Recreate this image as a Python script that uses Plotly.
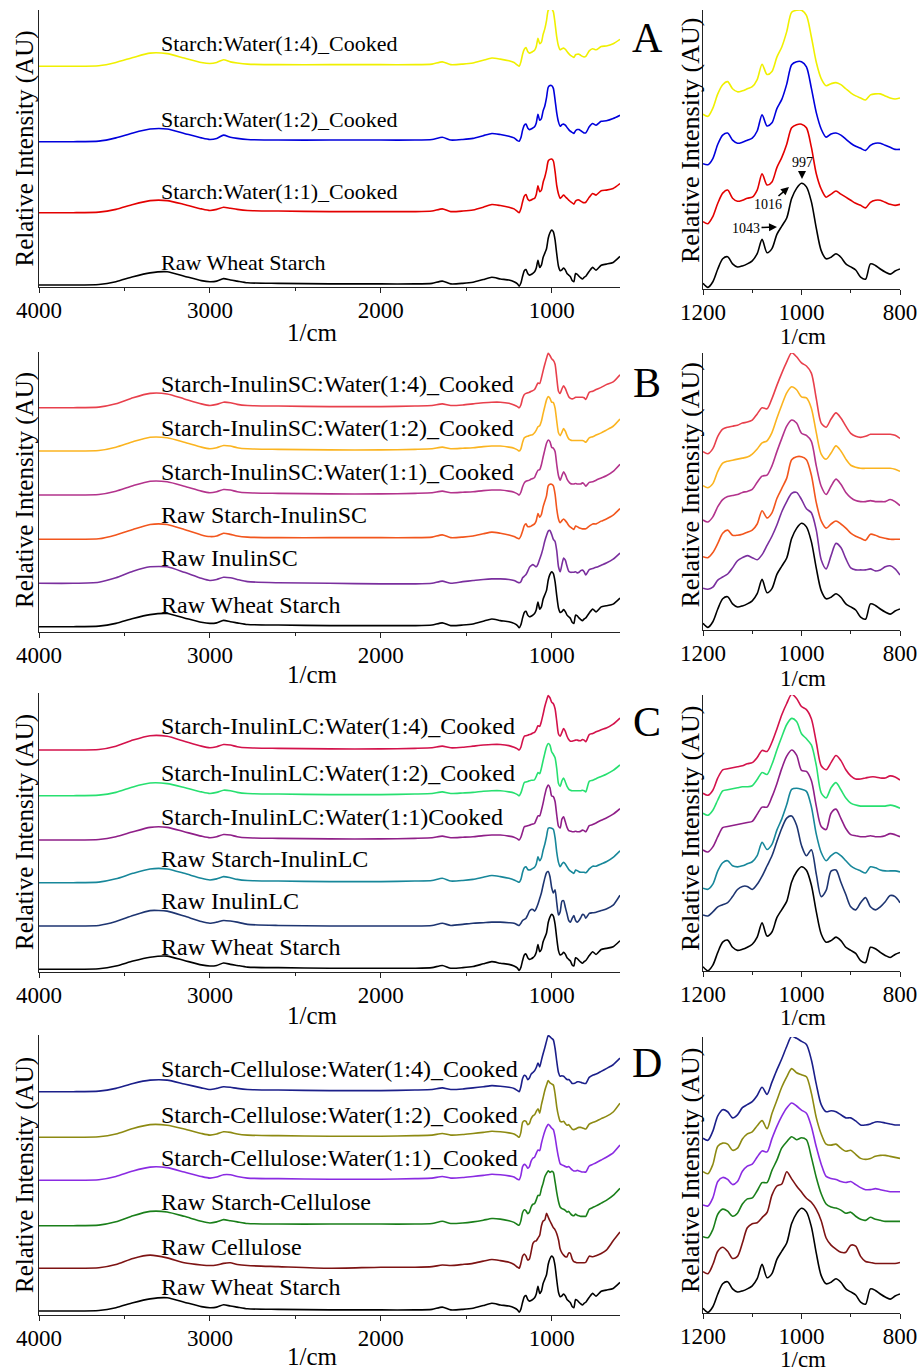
import plotly.graph_objects as go

W, H = 920, 1372
SERIF = "Liberation Serif"

# ---------------- wavenumber grid (1/cm) ----------------
WN_HI = [4000, 3800, 3650, 3550, 3450, 3350, 3250, 3150, 3050, 3000, 2960, 2920, 2880, 2840, 2780,
         2600, 2300, 2000, 1800, 1700, 1640, 1590, 1520, 1460, 1400, 1350, 1300, 1250, 1220]
WN_FP = [1200, 1190, 1180, 1170, 1160, 1150, 1140, 1130, 1120, 1110, 1100, 1090, 1080, 1070, 1060,
         1050, 1040, 1030, 1020, 1010, 1000, 990, 980, 970, 960, 950, 940, 930, 920, 910, 900,
         890, 880, 870, 860, 850, 840, 830, 820, 810, 800]
WN_LO = [780, 760, 740, 710, 680, 640, 600]
WAVENUMBER = WN_HI + WN_FP + WN_LO

# ---------------- spectra (relative intensity, main band = 1) ----------------
raw_wheat_starch = [
    0.00, 0.00, 0.01, 0.06, 0.15, 0.22, 0.24, 0.16, 0.08, 0.06, 0.07, 0.115, 0.09, 0.07, 0.04, 0.03, 0.02, 0.02, 0.02, 0.03, 0.07, 0.02, 0.03, 0.05, 0.10, 0.14, 0.11, 0.09, 0.06,
    0.02, -0.02, 0.035, 0.16, 0.26, 0.28, 0.21, 0.18, 0.19, 0.21, 0.24, 0.31, 0.45, 0.32, 0.36, 0.50, 0.58, 0.66, 0.85, 0.95, 1.00, 0.965, 0.82, 0.56, 0.34, 0.26, 0.275, 0.31, 0.275, 0.21, 0.18, 0.15, 0.08, 0.06, 0.21, 0.195, 0.16, 0.13, 0.11, 0.14, 0.16,
    0.25, 0.32, 0.27, 0.36, 0.38, 0.41, 0.52]

starch_water_1_1 = [
    0.00, 0.00, 0.01, 0.06, 0.15, 0.22, 0.22, 0.15, 0.07, 0.04, 0.06, 0.10, 0.08, 0.06, 0.04, 0.03, 0.02, 0.02, 0.02, 0.03, 0.07, 0.02, 0.03, 0.05, 0.10, 0.15, 0.13, 0.10, 0.07,
    0.02, 0.00, 0.07, 0.20, 0.30, 0.33, 0.25, 0.22, 0.23, 0.25, 0.26, 0.33, 0.49, 0.38, 0.41, 0.55, 0.65, 0.78, 0.94, 0.97, 0.975, 0.94, 0.75, 0.49, 0.34, 0.26, 0.29, 0.32, 0.29, 0.26, 0.23, 0.20, 0.18, 0.155, 0.21, 0.23, 0.23, 0.21, 0.19, 0.18, 0.19,
    0.28, 0.35, 0.32, 0.40, 0.41, 0.44, 0.53]

starch_water_1_2 = [
    0.00, 0.00, 0.01, 0.07, 0.16, 0.23, 0.23, 0.15, 0.07, 0.04, 0.06, 0.12, 0.08, 0.06, 0.04, 0.03, 0.03, 0.03, 0.03, 0.04, 0.08, 0.03, 0.04, 0.06, 0.11, 0.15, 0.13, 0.10, 0.07,
    0.02, 0.01, 0.07, 0.21, 0.30, 0.32, 0.25, 0.22, 0.23, 0.25, 0.27, 0.34, 0.50, 0.39, 0.42, 0.56, 0.65, 0.80, 0.99, 1.02, 1.02, 0.97, 0.76, 0.52, 0.36, 0.28, 0.31, 0.32, 0.30, 0.26, 0.22, 0.19, 0.17, 0.15, 0.20, 0.22, 0.22, 0.20, 0.18, 0.16, 0.16,
    0.27, 0.33, 0.30, 0.37, 0.38, 0.42, 0.48]

starch_water_1_4 = [
    0.00, 0.00, 0.01, 0.07, 0.16, 0.24, 0.23, 0.15, 0.07, 0.05, 0.07, 0.12, 0.08, 0.06, 0.04, 0.03, 0.03, 0.03, 0.03, 0.04, 0.08, 0.03, 0.04, 0.06, 0.11, 0.15, 0.13, 0.10, 0.07,
    0.02, 0.00, 0.08, 0.22, 0.31, 0.34, 0.27, 0.24, 0.25, 0.27, 0.29, 0.36, 0.51, 0.41, 0.44, 0.58, 0.68, 0.83, 1.02, 1.04, 1.04, 0.99, 0.78, 0.53, 0.37, 0.30, 0.32, 0.33, 0.31, 0.27, 0.23, 0.20, 0.18, 0.16, 0.21, 0.22, 0.22, 0.20, 0.18, 0.17, 0.18,
    0.28, 0.32, 0.30, 0.36, 0.37, 0.41, 0.49]

raw_inulin_sc = [
    0.00, 0.00, 0.02, 0.10, 0.22, 0.30, 0.30, 0.20, 0.09, 0.05, 0.07, 0.11, 0.10, 0.07, 0.03, 0.01, 0.00, -0.01, -0.01, 0.00, 0.04, 0.00, 0.03, 0.05, 0.07, 0.08, 0.08, 0.07, 0.05,
    0.02, 0.01, 0.03, 0.10, 0.13, 0.16, 0.22, 0.29, 0.32, 0.34, 0.32, 0.30, 0.35, 0.44, 0.53, 0.64, 0.77, 0.87, 0.95, 0.96, 0.89, 0.80, 0.76, 0.59, 0.30, 0.21, 0.34, 0.46, 0.42, 0.31, 0.22, 0.20, 0.20, 0.20, 0.21, 0.19, 0.20, 0.23, 0.24, 0.21, 0.15,
    0.25, 0.27, 0.29, 0.33, 0.37, 0.44, 0.55]

raw_starch_inulin_sc = [
    0.00, 0.00, 0.01, 0.08, 0.18, 0.27, 0.27, 0.18, 0.08, 0.05, 0.06, 0.11, 0.09, 0.06, 0.04, 0.03, 0.03, 0.03, 0.03, 0.04, 0.08, 0.03, 0.04, 0.06, 0.10, 0.13, 0.11, 0.08, 0.05,
    0.02, 0.01, 0.06, 0.15, 0.25, 0.28, 0.23, 0.23, 0.24, 0.26, 0.28, 0.34, 0.47, 0.40, 0.45, 0.59, 0.69, 0.79, 0.97, 1.00, 1.00, 0.97, 0.82, 0.55, 0.37, 0.30, 0.34, 0.37, 0.34, 0.30, 0.25, 0.22, 0.20, 0.18, 0.24, 0.23, 0.21, 0.20, 0.19, 0.19, 0.19,
    0.24, 0.28, 0.28, 0.33, 0.37, 0.44, 0.56]

starch_inulin_sc_1_1 = [
    0.00, 0.00, 0.01, 0.07, 0.17, 0.25, 0.24, 0.16, 0.07, 0.04, 0.06, 0.10, 0.09, 0.06, 0.04, 0.03, 0.02, 0.02, 0.03, 0.04, 0.07, 0.04, 0.05, 0.06, 0.08, 0.09, 0.09, 0.07, 0.05,
    0.02, 0.00, 0.05, 0.15, 0.22, 0.25, 0.26, 0.27, 0.29, 0.30, 0.32, 0.39, 0.45, 0.46, 0.55, 0.69, 0.82, 0.94, 1.00, 0.97, 0.87, 0.85, 0.79, 0.55, 0.35, 0.27, 0.35, 0.42, 0.37, 0.29, 0.24, 0.21, 0.20, 0.20, 0.21, 0.20, 0.20, 0.20, 0.22, 0.20, 0.16,
    0.23, 0.24, 0.27, 0.31, 0.35, 0.43, 0.56]

starch_inulin_sc_1_2 = [
    0.00, 0.00, 0.01, 0.07, 0.17, 0.25, 0.24, 0.16, 0.07, 0.04, 0.06, 0.10, 0.09, 0.06, 0.04, 0.03, 0.02, 0.02, 0.03, 0.04, 0.07, 0.04, 0.05, 0.06, 0.08, 0.09, 0.09, 0.07, 0.05,
    0.02, 0.00, 0.04, 0.16, 0.24, 0.26, 0.27, 0.28, 0.29, 0.30, 0.33, 0.38, 0.44, 0.46, 0.54, 0.68, 0.81, 0.93, 0.99, 0.96, 0.89, 0.88, 0.78, 0.54, 0.33, 0.28, 0.34, 0.41, 0.36, 0.28, 0.22, 0.20, 0.19, 0.19, 0.19, 0.19, 0.19, 0.19, 0.19, 0.18, 0.16,
    0.24, 0.26, 0.29, 0.33, 0.38, 0.45, 0.58]

starch_inulin_sc_1_4 = [
    0.00, 0.00, 0.01, 0.07, 0.18, 0.26, 0.25, 0.16, 0.07, 0.04, 0.06, 0.10, 0.09, 0.06, 0.04, 0.03, 0.02, 0.02, 0.03, 0.04, 0.07, 0.04, 0.05, 0.07, 0.09, 0.10, 0.10, 0.08, 0.05,
    0.02, 0.00, 0.05, 0.17, 0.24, 0.26, 0.27, 0.28, 0.30, 0.31, 0.33, 0.39, 0.45, 0.44, 0.54, 0.67, 0.79, 0.90, 0.99, 0.95, 0.89, 0.86, 0.79, 0.54, 0.30, 0.26, 0.34, 0.40, 0.35, 0.27, 0.20, 0.17, 0.16, 0.17, 0.19, 0.19, 0.19, 0.19, 0.19, 0.18, 0.15,
    0.28, 0.30, 0.33, 0.37, 0.42, 0.47, 0.60]

raw_inulin_lc = [
    0.00, 0.00, 0.01, 0.08, 0.19, 0.28, 0.27, 0.18, 0.08, 0.05, 0.07, 0.10, 0.09, 0.07, 0.03, 0.01, 0.00, 0.00, 0.00, 0.01, 0.05, 0.01, 0.03, 0.05, 0.06, 0.07, 0.07, 0.06, 0.05,
    0.02, 0.01, 0.05, 0.10, 0.12, 0.14, 0.20, 0.27, 0.30, 0.30, 0.27, 0.32, 0.40, 0.50, 0.60, 0.74, 0.87, 0.97, 0.99, 0.90, 0.70, 0.60, 0.66, 0.42, 0.20, 0.26, 0.45, 0.46, 0.34, 0.22, 0.10, 0.07, 0.14, 0.19, 0.10, 0.07, 0.10, 0.15, 0.21, 0.20, 0.14,
    0.23, 0.24, 0.25, 0.28, 0.31, 0.38, 0.56]

raw_starch_inulin_lc = [
    0.00, 0.00, 0.01, 0.07, 0.17, 0.25, 0.25, 0.17, 0.08, 0.05, 0.07, 0.11, 0.09, 0.06, 0.04, 0.03, 0.02, 0.02, 0.03, 0.04, 0.08, 0.03, 0.04, 0.06, 0.10, 0.13, 0.11, 0.08, 0.05,
    0.02, 0.01, 0.06, 0.19, 0.27, 0.29, 0.24, 0.23, 0.24, 0.26, 0.28, 0.34, 0.47, 0.40, 0.45, 0.59, 0.70, 0.84, 0.99, 1.00, 0.99, 0.97, 0.82, 0.55, 0.37, 0.29, 0.34, 0.37, 0.34, 0.29, 0.24, 0.21, 0.19, 0.17, 0.23, 0.22, 0.20, 0.19, 0.19, 0.19, 0.18,
    0.25, 0.30, 0.30, 0.34, 0.38, 0.46, 0.58]

starch_inulin_lc_1_1 = [
    0.00, 0.00, 0.01, 0.06, 0.15, 0.23, 0.23, 0.15, 0.07, 0.04, 0.06, 0.10, 0.09, 0.06, 0.04, 0.03, 0.02, 0.02, 0.03, 0.04, 0.07, 0.04, 0.05, 0.06, 0.08, 0.09, 0.09, 0.07, 0.05,
    0.02, 0.00, 0.05, 0.15, 0.24, 0.25, 0.26, 0.27, 0.28, 0.29, 0.30, 0.37, 0.44, 0.44, 0.54, 0.67, 0.82, 0.94, 1.00, 0.95, 0.80, 0.79, 0.70, 0.45, 0.25, 0.22, 0.38, 0.42, 0.33, 0.23, 0.17, 0.16, 0.15, 0.15, 0.16, 0.15, 0.15, 0.16, 0.18, 0.17, 0.15,
    0.26, 0.28, 0.31, 0.36, 0.40, 0.47, 0.57]

starch_inulin_lc_1_2 = [
    0.00, 0.00, 0.01, 0.06, 0.16, 0.23, 0.22, 0.15, 0.07, 0.04, 0.06, 0.10, 0.09, 0.06, 0.04, 0.03, 0.02, 0.02, 0.03, 0.04, 0.07, 0.04, 0.05, 0.06, 0.08, 0.09, 0.09, 0.07, 0.05,
    0.02, 0.00, 0.05, 0.15, 0.24, 0.25, 0.26, 0.27, 0.28, 0.28, 0.29, 0.35, 0.42, 0.40, 0.50, 0.64, 0.77, 0.89, 0.95, 0.92, 0.80, 0.75, 0.69, 0.49, 0.22, 0.17, 0.27, 0.32, 0.25, 0.17, 0.12, 0.10, 0.09, 0.09, 0.09, 0.09, 0.09, 0.09, 0.10, 0.09, 0.07,
    0.26, 0.28, 0.31, 0.35, 0.39, 0.46, 0.56]

starch_inulin_lc_1_4 = [
    0.00, 0.00, 0.01, 0.07, 0.18, 0.26, 0.25, 0.16, 0.07, 0.04, 0.06, 0.10, 0.09, 0.06, 0.04, 0.03, 0.02, 0.02, 0.03, 0.04, 0.07, 0.04, 0.05, 0.07, 0.09, 0.10, 0.10, 0.08, 0.05,
    0.02, 0.00, 0.05, 0.17, 0.25, 0.26, 0.27, 0.28, 0.29, 0.31, 0.32, 0.37, 0.44, 0.43, 0.52, 0.65, 0.79, 0.90, 0.99, 0.95, 0.87, 0.84, 0.75, 0.52, 0.29, 0.25, 0.32, 0.39, 0.34, 0.25, 0.19, 0.16, 0.16, 0.17, 0.18, 0.18, 0.17, 0.17, 0.19, 0.18, 0.15,
    0.28, 0.30, 0.33, 0.37, 0.40, 0.47, 0.58]

raw_cellulose = [
    0.00, 0.00, 0.01, 0.07, 0.18, 0.24, 0.19, 0.10, 0.06, 0.05, 0.06, 0.09, 0.10, 0.07, 0.05, 0.03, 0.00, 0.02, 0.02, 0.03, 0.06, 0.05, 0.07, 0.09, 0.13, 0.16, 0.14, 0.11, 0.07,
    0.02, 0.00, 0.09, 0.22, 0.26, 0.22, 0.15, 0.17, 0.30, 0.45, 0.49, 0.50, 0.55, 0.60, 0.77, 0.86, 0.88, 1.00, 0.93, 0.86, 0.80, 0.74, 0.70, 0.63, 0.52, 0.35, 0.28, 0.24, 0.21, 0.21, 0.28, 0.27, 0.17, 0.12, 0.11, 0.10, 0.10, 0.10, 0.10, 0.10, 0.11,
    0.22, 0.21, 0.23, 0.27, 0.33, 0.50, 0.66]

raw_starch_cellulose = [
    0.00, 0.00, 0.01, 0.07, 0.18, 0.26, 0.25, 0.17, 0.08, 0.05, 0.07, 0.11, 0.09, 0.07, 0.04, 0.03, 0.03, 0.03, 0.03, 0.04, 0.08, 0.04, 0.05, 0.07, 0.10, 0.13, 0.12, 0.09, 0.06,
    0.02, 0.01, 0.09, 0.24, 0.29, 0.27, 0.22, 0.25, 0.34, 0.39, 0.40, 0.47, 0.55, 0.55, 0.67, 0.77, 0.89, 0.95, 1.00, 0.97, 0.99, 0.97, 0.80, 0.60, 0.44, 0.34, 0.31, 0.30, 0.28, 0.25, 0.26, 0.22, 0.19, 0.18, 0.21, 0.19, 0.18, 0.17, 0.17, 0.17, 0.17,
    0.30, 0.33, 0.36, 0.41, 0.46, 0.55, 0.68]

starch_cellulose_1_1 = [
    0.00, 0.00, 0.01, 0.07, 0.17, 0.24, 0.23, 0.15, 0.07, 0.04, 0.06, 0.10, 0.10, 0.07, 0.04, 0.03, 0.02, 0.02, 0.03, 0.04, 0.07, 0.04, 0.05, 0.07, 0.09, 0.11, 0.10, 0.08, 0.06,
    0.02, 0.01, 0.09, 0.25, 0.29, 0.27, 0.22, 0.25, 0.35, 0.40, 0.42, 0.49, 0.55, 0.54, 0.67, 0.79, 0.89, 0.97, 1.02, 0.99, 0.95, 0.92, 0.79, 0.59, 0.42, 0.30, 0.28, 0.27, 0.25, 0.24, 0.25, 0.22, 0.19, 0.17, 0.17, 0.18, 0.17, 0.16, 0.15, 0.15, 0.15,
    0.26, 0.29, 0.32, 0.37, 0.42, 0.50, 0.64]

starch_cellulose_1_2 = [
    0.00, 0.00, 0.01, 0.06, 0.16, 0.23, 0.22, 0.15, 0.07, 0.04, 0.06, 0.10, 0.09, 0.06, 0.04, 0.03, 0.02, 0.02, 0.03, 0.04, 0.07, 0.04, 0.05, 0.07, 0.09, 0.11, 0.10, 0.08, 0.06,
    0.02, 0.00, 0.09, 0.27, 0.30, 0.29, 0.23, 0.25, 0.34, 0.39, 0.41, 0.47, 0.52, 0.44, 0.59, 0.72, 0.85, 0.95, 1.03, 0.99, 0.97, 0.95, 0.79, 0.55, 0.39, 0.29, 0.28, 0.29, 0.25, 0.22, 0.23, 0.19, 0.15, 0.14, 0.15, 0.17, 0.18, 0.18, 0.17, 0.16, 0.15,
    0.24, 0.27, 0.29, 0.34, 0.38, 0.46, 0.62]

starch_cellulose_1_4 = [
    0.00, 0.00, 0.01, 0.06, 0.15, 0.21, 0.21, 0.14, 0.07, 0.04, 0.06, 0.09, 0.08, 0.06, 0.04, 0.03, 0.02, 0.02, 0.03, 0.04, 0.07, 0.04, 0.05, 0.07, 0.09, 0.11, 0.10, 0.08, 0.06,
    0.02, 0.00, 0.09, 0.24, 0.30, 0.28, 0.22, 0.25, 0.32, 0.35, 0.38, 0.44, 0.52, 0.45, 0.57, 0.69, 0.80, 0.92, 1.02, 1.00, 0.97, 0.94, 0.79, 0.55, 0.35, 0.28, 0.29, 0.28, 0.25, 0.22, 0.22, 0.19, 0.15, 0.15, 0.16, 0.18, 0.18, 0.17, 0.16, 0.15, 0.15,
    0.26, 0.30, 0.32, 0.37, 0.42, 0.49, 0.61]

# ---------------- series names (bottom to top in each row) ----------------
NAMES_A = ["Raw Wheat Starch", "Starch:Water(1:1)_Cooked", "Starch:Water(1:2)_Cooked", "Starch:Water(1:4)_Cooked"]
NAMES_B = ["Raw Wheat Starch", "Raw InulinSC", "Raw Starch-InulinSC", "Starch-InulinSC:Water(1:1)_Cooked",
           "Starch-InulinSC:Water(1:2)_Cooked", "Starch-InulinSC:Water(1:4)_Cooked"]
NAMES_C = ["Raw Wheat Starch", "Raw InulinLC", "Raw Starch-InulinLC", "Starch-InulinLC:Water(1:1)Cooked",
           "Starch-InulinLC:Water(1:2)_Cooked", "Starch-InulinLC:Water(1:4)_Cooked"]
NAMES_D = ["Raw Wheat Starch", "Raw Cellulose", "Raw Starch-Cellulose", "Starch-Cellulose:Water(1:1)_Cooked",
           "Starch-Cellulose:Water(1:2)_Cooked", "Starch-Cellulose:Water(1:4)_Cooked"]
PANEL_LETTERS = ["A", "B", "C", "D"]
PEAK_MARKS = ["997", "1016", "1043"]

SERIES_A = [raw_wheat_starch, starch_water_1_1, starch_water_1_2, starch_water_1_4]
SERIES_B = [raw_wheat_starch, raw_inulin_sc, raw_starch_inulin_sc, starch_inulin_sc_1_1, starch_inulin_sc_1_2, starch_inulin_sc_1_4]
SERIES_C = [raw_wheat_starch, raw_inulin_lc, raw_starch_inulin_lc, starch_inulin_lc_1_1, starch_inulin_lc_1_2, starch_inulin_lc_1_4]
SERIES_D = [raw_wheat_starch, raw_cellulose, raw_starch_cellulose, starch_cellulose_1_1, starch_cellulose_1_2, starch_cellulose_1_4]

for grp in (SERIES_A, SERIES_B, SERIES_C, SERIES_D):
    for s in grp:
        assert len(s) == len(WAVENUMBER), len(s)

# ---------------- styles / layout positions (pixels) ----------------
COLORS_A = ["#000000", "#e30000", "#0000dc", "#f0f000"]
COLORS_B = ["#000000", "#7a2f9e", "#f2561d", "#b3338c", "#fbb420", "#e8404c"]
COLORS_C = ["#000000", "#1e3571", "#17879a", "#8f1f88", "#27e070", "#d3124b"]
COLORS_D = ["#000000", "#7d1313", "#1a7f1a", "#8a2be2", "#8d8a12", "#1b1f8a"]

ROWS = [
    dict(series=SERIES_A, names=NAMES_A, colors=COLORS_A,
         left=(10, 287), right=(10, 289),
         lz=[285, 212.7, 141.7, 66.3], rz=[285.3, 223.7, 165.7, 116.3],
         ly=[262, 191, 119, 44], lsize=22, letter_y=38,
         ytl=148.5, ytr=140, xt=333, xtr=336),
    dict(series=SERIES_B, names=NAMES_B, colors=COLORS_B,
         left=(352, 632), right=(353, 630),
         lz=[626.7, 583.3, 539.3, 495, 451, 407.7], rz=[625.3, 590.3, 558.7, 522, 487.7, 453.7],
         ly=[605, 558.3, 515, 471.7, 428.3, 384.3], lsize=24, letter_y=383,
         ytl=490, ytr=484.5, xt=675, xtr=678),
    dict(series=SERIES_C, names=NAMES_C, colors=COLORS_C,
         left=(693, 972), right=(695, 971),
         lz=[969.3, 926, 882.7, 840, 795.7, 750], rz=[968.7, 917, 890.3, 852, 815.3, 795.3],
         ly=[946.7, 900.7, 859.3, 816.7, 772.7, 726], lsize=24, letter_y=722,
         ytl=832, ytr=828, xt=1015, xtr=1018),
    dict(series=SERIES_D, names=NAMES_D, colors=COLORS_D,
         left=(1035, 1315), right=(1037, 1313),
         lz=[1311, 1268.3, 1225.7, 1180.3, 1137.3, 1091.7], rz=[1310.3, 1273.7, 1238.7, 1207, 1173.7, 1140.3],
         ly=[1286.7, 1246.7, 1201.7, 1158.3, 1115, 1069.3], lsize=24, letter_y=1063,
         ytl=1175, ytr=1170, xt=1356, xtr=1359),
]

LEFT_X = (39, 620)
RIGHT_X = (703, 900)
UNIT_L = 55.0
UNIT_R = 102.0

fig = go.Figure()
annotations = []
axis_font = dict(family=SERIF, size=23, color="black")


def px_x(p):
    return p / W


def px_y(p):
    return 1 - p / H


def axname(kind, n):
    return f"{kind}axis" if n == 1 else f"{kind}axis{n}"


def ref(kind, n):
    return kind if n == 1 else f"{kind}{n}"


fp_idx = [i for i, w in enumerate(WAVENUMBER) if 800 <= w <= 1200]

for r, row in enumerate(ROWS):
    nl, nr = 2 * r + 1, 2 * r + 2
    lt, lb = row["left"]
    rt, rb = row["right"]
    for s, c, zl, zr in zip(row["series"], row["colors"], row["lz"], row["rz"]):
        fig.add_trace(go.Scatter(
            x=WAVENUMBER, y=[(lb - zl) + v * UNIT_L for v in s],
            xaxis=ref("x", nl), yaxis=ref("y", nl), mode="lines",
            line=dict(color=c, width=1.6, shape="spline", smoothing=0.6),
            showlegend=False, hoverinfo="skip"))
        fig.add_trace(go.Scatter(
            x=[WAVENUMBER[i] for i in fp_idx], y=[(rb - zr) + s[i] * UNIT_R for i in fp_idx],
            xaxis=ref("x", nr), yaxis=ref("y", nr), mode="lines",
            line=dict(color=c, width=1.6, shape="spline", smoothing=0.8),
            showlegend=False, hoverinfo="skip"))

    common_x = dict(showline=True, linecolor="#222", linewidth=1.2, ticks="outside", ticklen=5,
                    tickwidth=1.2, tickcolor="#222", tickfont=axis_font, showgrid=False,
                    zeroline=False, automargin=False, ticklabelstandoff=-3)
    common_y = dict(showline=True, linecolor="#222", linewidth=1.2, ticks="", showticklabels=False,
                    showgrid=False, zeroline=False, automargin=False)
    fig.update_layout(**{
        axname("x", nl): dict(common_x, domain=[px_x(LEFT_X[0]), px_x(LEFT_X[1])], range=[4000, 600],
                              anchor=ref("y", nl), tickvals=[4000, 3000, 2000, 1000],
                              minor=dict(tickvals=[3500, 2500, 1500], ticks="outside", ticklen=3,
                                         tickcolor="#222", showgrid=False)),
        axname("y", nl): dict(common_y, domain=[px_y(lb), px_y(lt)], range=[0, lb - lt],
                              anchor=ref("x", nl)),
        axname("x", nr): dict(common_x, domain=[px_x(RIGHT_X[0]), px_x(RIGHT_X[1])], range=[1200, 800],
                              anchor=ref("y", nr), tickvals=[1200, 1000, 800],
                              minor=dict(tickvals=[1100, 900], ticks="outside", ticklen=3,
                                         tickcolor="#222", showgrid=False)),
        axname("y", nr): dict(common_y, domain=[px_y(rb), px_y(rt)], range=[0, rb - rt],
                              anchor=ref("x", nr)),
    })

    # series labels
    for name, y in zip(row["names"], row["ly"]):
        annotations.append(dict(x=px_x(159), y=px_y(y), xref="paper", yref="paper", text=name,
                                showarrow=False, xanchor="left", yanchor="middle",
                                font=dict(family=SERIF, size=row["lsize"], color="black")))
    # panel letter
    annotations.append(dict(x=px_x(647), y=px_y(row["letter_y"]), xref="paper", yref="paper",
                            text=PANEL_LETTERS[r], showarrow=False, xanchor="center", yanchor="middle",
                            font=dict(family=SERIF, size=42, color="black")))
    # axis titles
    annotations.append(dict(x=px_x(25), y=px_y(row["ytl"]), xref="paper", yref="paper",
                            text="Relative Intensity (AU)", textangle=-90, showarrow=False,
                            xanchor="center", yanchor="middle",
                            font=dict(family=SERIF, size=25, color="black")))
    annotations.append(dict(x=px_x(690), y=px_y(row["ytr"]), xref="paper", yref="paper",
                            text="Relative Intensity (AU)", textangle=-90, showarrow=False,
                            xanchor="center", yanchor="middle",
                            font=dict(family=SERIF, size=26, color="black")))
    annotations.append(dict(x=px_x(312), y=px_y(row["xt"]), xref="paper", yref="paper",
                            text="1/cm", showarrow=False, xanchor="center", yanchor="middle",
                            font=dict(family=SERIF, size=25, color="black")))
    annotations.append(dict(x=px_x(803), y=px_y(row["xtr"]), xref="paper", yref="paper",
                            text="1/cm", showarrow=False, xanchor="center", yanchor="middle",
                            font=dict(family=SERIF, size=23, color="black")))

# peak markers in panel A (right)
arrow_specs = [((802, 179), (0, -16)), ((789, 187), (-21, 18)), ((777, 227), (-31, 1))]
for txt, ((hx, hy), (ax, ay)) in zip(PEAK_MARKS, arrow_specs):
    annotations.append(dict(x=px_x(hx), y=px_y(hy), xref="paper", yref="paper", text=txt,
                            showarrow=True, ax=ax, ay=ay, arrowhead=2, arrowsize=1, arrowwidth=1.6,
                            arrowcolor="black", standoff=0,
                            font=dict(family=SERIF, size=14, color="black")))

fig.update_layout(width=W, height=H, autosize=False, margin=dict(l=0, r=0, t=0, b=0, pad=0),
                  paper_bgcolor="white", plot_bgcolor="white", annotations=annotations,
                  hovermode=False, showlegend=False)

fig.write_html("out.html", config={"displayModeBar": False},
               post_script="document.body.style.margin='0px';")
